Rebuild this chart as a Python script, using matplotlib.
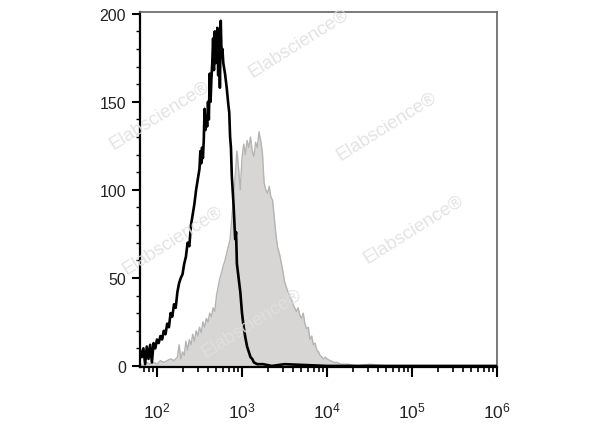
import numpy as np
import matplotlib
matplotlib.use("Agg")
import matplotlib.pyplot as plt
from matplotlib.ticker import FixedLocator, NullFormatter

plt.rcParams['font.family'] = ['Liberation Sans', 'DejaVu Sans']
plt.rcParams['mathtext.fontset'] = 'custom'
plt.rcParams['mathtext.rm'] = 'Liberation Sans'
plt.rcParams['mathtext.it'] = 'Liberation Sans'

# black histogram (stained sample): log10 intensity, count
black_log = [1.80, 1.82, 1.84, 1.86, 1.88, 1.90, 1.92, 1.94, 1.96, 1.98,
             2.00, 2.02, 2.04, 2.06, 2.08, 2.10, 2.12, 2.14, 2.16, 2.18,
             2.20, 2.22, 2.24, 2.26, 2.28, 2.30, 2.32, 2.34, 2.36, 2.38,
             2.40, 2.42, 2.44, 2.46, 2.48, 2.50, 2.51, 2.52, 2.53, 2.54,
             2.55, 2.56, 2.57, 2.58, 2.59, 2.60, 2.61, 2.62, 2.63, 2.64,
             2.65, 2.66, 2.67, 2.68, 2.69, 2.70, 2.71, 2.72, 2.73, 2.74,
             2.75, 2.76, 2.77, 2.78, 2.80, 2.82, 2.84, 2.85, 2.86, 2.87,
             2.88, 2.90, 2.92, 2.93, 2.94, 2.96, 2.98, 3.00, 3.02, 3.04,
             3.06, 3.08, 3.10, 3.12, 3.14, 3.18, 3.25, 3.35, 3.50, 4.00,
             5.00, 6.00]
black_cnt = [9, 5, 10, 1, 11, 4, 12, 2, 13, 10,
             15, 13, 17, 15, 20, 18, 24, 22, 30, 28,
             35, 33, 42, 47, 50, 52, 58, 62, 70, 68,
             80, 86, 92, 100, 106, 112, 122, 115, 124, 118,
             128, 146, 134, 142, 136, 150, 140, 166, 150, 163,
             172, 186, 168, 190, 172, 176, 192, 165, 188, 158,
             196, 175, 180, 172, 166, 158, 148, 144, 130, 124,
             108, 92, 72, 76, 58, 50, 42, 30, 22, 16,
             11, 8, 5, 4, 2, 1, 1, 0, 1, 0,
             0, 0]

# grey filled histogram (isotype / unstained control)
grey_log = [1.80, 1.84, 1.88, 1.92, 1.96, 2.00, 2.04, 2.08, 2.12, 2.16,
            2.20, 2.24, 2.26, 2.28, 2.30, 2.32, 2.34, 2.36, 2.38, 2.40,
            2.42, 2.44, 2.46, 2.48, 2.50, 2.52, 2.54, 2.56, 2.58, 2.60,
            2.62, 2.64, 2.66, 2.68, 2.70, 2.72, 2.74, 2.76, 2.78, 2.80,
            2.82, 2.84, 2.86, 2.88, 2.90, 2.92, 2.94, 2.96, 2.98, 3.00,
            3.02, 3.04, 3.06, 3.08, 3.10, 3.12, 3.14, 3.16, 3.18, 3.20,
            3.22, 3.24, 3.26, 3.28, 3.30, 3.32, 3.34, 3.36, 3.38, 3.40,
            3.42, 3.44, 3.46, 3.48, 3.50, 3.52, 3.54, 3.56, 3.58, 3.60,
            3.62, 3.64, 3.66, 3.68, 3.70, 3.72, 3.74, 3.76, 3.78, 3.80,
            3.82, 3.84, 3.86, 3.88, 3.90, 3.92, 3.94, 3.96, 3.98, 4.00,
            4.04, 4.08, 4.12, 4.16, 4.25, 4.35, 4.50, 4.70, 5.00, 6.00]
grey_cnt = [1, 0, 2, 1, 2, 1, 3, 2, 3, 4,
            3, 5, 12, 4, 8, 6, 14, 9, 15, 12,
            18, 14, 20, 17, 22, 19, 25, 22, 27, 25,
            30, 28, 33, 31, 40, 45, 50, 53, 57, 60,
            64, 68, 72, 84, 95, 108, 122, 112, 100, 118,
            126, 120, 128, 124, 130, 122, 119, 127, 124, 133,
            128, 121, 104, 100, 98, 102, 96, 94, 84, 74,
            67, 64, 59, 54, 48, 45, 42, 40, 38, 35,
            33, 31, 33, 29, 27, 30, 24, 21, 22, 15,
            17, 12, 13, 9, 8, 6, 5, 4, 5, 4,
            3, 2, 2, 1, 1, 0, 1, 0, 0, 0]

ytick_vals = [0, 50, 100, 150, 200]
xtick_exps = [2, 3, 4, 5, 6]
watermark = 'Elabscience\u00ae'

fig = plt.figure(figsize=(6.0, 4.27), dpi=100)
ax = fig.add_axes([140 / 600, 1 - 368 / 427, 357 / 600, 355 / 427])

gx = 10 ** np.array(grey_log)
bx = 10 ** np.array(black_log)
ax.fill_between(gx, grey_cnt, 0, color='#d8d6d4', lw=0, zorder=1)
ax.plot(gx, grey_cnt, color='#b4b4b4', lw=1.0, zorder=2)
ax.plot(bx, black_cnt, color='black', lw=1.9, zorder=3)

ax.set_xscale('log')
ax.set_xlim(10 ** 1.8, 10 ** 6.0)
ax.set_ylim(-0.6, 201)

# ticks
ax.set_xticks([10.0 ** e for e in xtick_exps])
ax.set_xticklabels([r'$10^{%d}$' % e for e in xtick_exps])
minors = [m * 10.0 ** e for e in range(1, 6) for m in range(2, 10)]
ax.xaxis.set_minor_locator(FixedLocator(minors))
ax.xaxis.set_minor_formatter(NullFormatter())
ax.set_yticks(ytick_vals)
ax.set_yticks(np.arange(0, 201, 10), minor=True)

ax.tick_params(axis='x', which='major', direction='out', length=7, width=1.5,
               labelsize=12.5, pad=17, labelcolor='#222222')
ax.tick_params(axis='x', which='minor', direction='out', length=3.5, width=1.2)
ax.tick_params(axis='y', which='major', direction='out', length=6, width=1.5,
               labelsize=11.5, pad=4, labelcolor='#222222')
ax.tick_params(axis='y', which='minor', direction='out', length=3, width=1.0)

for s in ['left', 'bottom']:
    ax.spines[s].set_linewidth(1.6)
    ax.spines[s].set_color('black')
for s in ['top', 'right']:
    ax.spines[s].set_linewidth(1.3)
    ax.spines[s].set_color('#6e6e6e')

# faint watermark stamps
wm = [(0.443, 0.915), (0.056, 0.71), (0.69, 0.68), (0.767, 0.39),
      (0.09, 0.36), (0.314, 0.125)]
for wx, wy in wm:
    ax.text(wx, wy, watermark, transform=ax.transAxes, fontsize=13.5,
            color='#e0e0e0', rotation=32, ha='center', va='center',
            zorder=4, clip_on=False, alpha=0.9)

fig.savefig('out.png', dpi=100)
